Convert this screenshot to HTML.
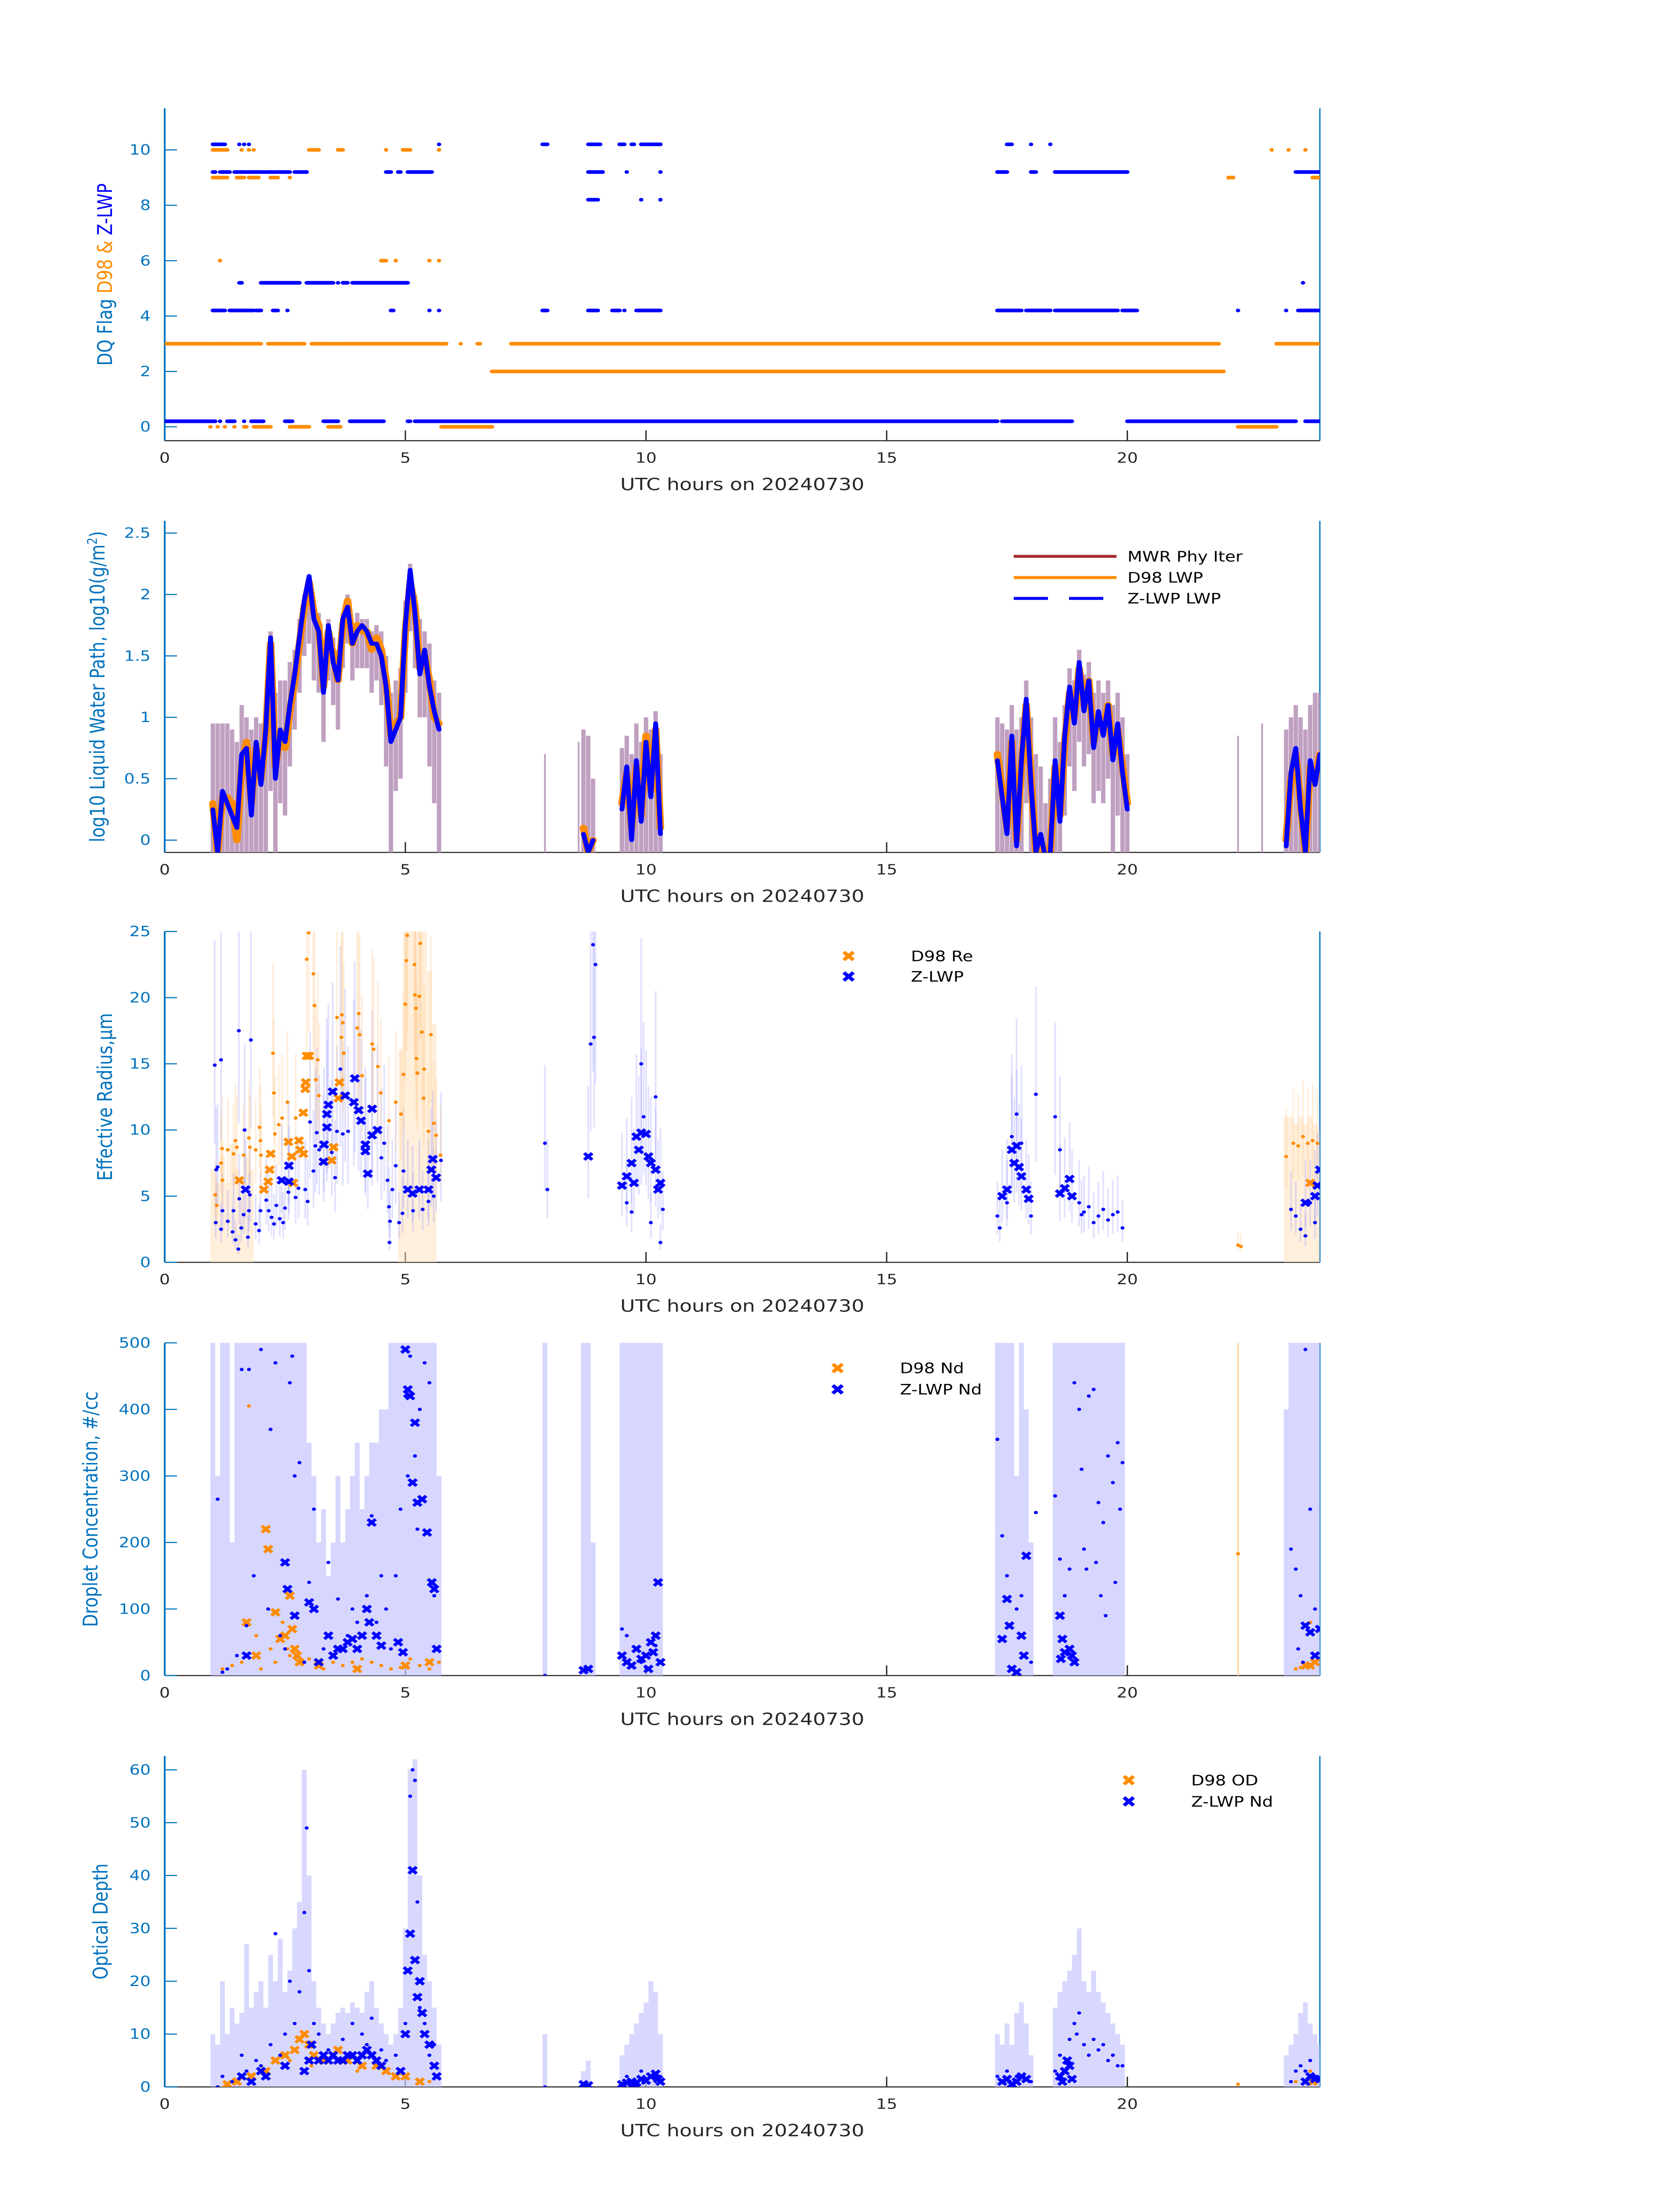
<!DOCTYPE html>
<html><head><meta charset="utf-8"><style>
html,body{margin:0;padding:0;background:#fff;width:100vw;height:100vh;overflow:hidden;}
svg{display:block;width:100vw;height:100vh;font-family:"DejaVu Sans","Liberation Sans",sans-serif;}
</style></head><body>
<svg id="fig" xmlns="http://www.w3.org/2000/svg" viewBox="0 0 3825 6000" preserveAspectRatio="none"></svg>
<script>
// ---------- Panel 1: DQ flag ranges [start,end] in UTC hours ----------
const d98F10=[[1.0,1.3],[1.6,1.6],[1.75,1.75],[1.85,1.85],[3.0,3.2],[3.6,3.7],[4.6,4.6],[4.95,5.1],[5.7,5.7],[23.0,23.0],[23.35,23.35],[23.7,23.7]];
const d98F9=[[1.0,1.3],[1.5,1.65],[1.75,1.95],[2.2,2.35],[2.6,2.6],[22.1,22.2],[23.85,24]];
const d98F6=[[1.15,1.15],[4.5,4.6],[4.8,4.8],[5.5,5.5],[5.7,5.7]];
const d98F3=[[0,1.0],[1.05,1.4],[1.45,1.7],[1.75,2.0],[2.15,2.65],[2.7,2.9],[3.05,3.45],[3.5,3.6],[3.65,5.85],[6.15,6.15],[6.5,6.55],[7.2,21.9],[23.1,24]];
const d98F2=[[6.8,22.0]];
const d98F0=[[0.95,0.95],[1.1,1.1],[1.25,1.25],[1.45,1.45],[1.65,1.7],[1.85,2.2],[2.6,3.0],[3.4,3.65],[5.75,6.8],[22.3,23.1]];
const zF10=[[1.0,1.25],[1.55,1.55],[1.65,1.65],[1.75,1.75],[5.7,5.7],[7.85,7.95],[8.8,9.05],[9.45,9.55],[9.7,9.75],[9.9,10.3],[17.5,17.6],[18.0,18.0],[18.4,18.4]];
const zF9=[[1.0,1.05],[1.15,1.35],[1.45,2.6],[2.7,2.95],[4.6,4.7],[4.85,4.9],[5.05,5.55],[8.8,9.1],[9.6,9.6],[10.3,10.3],[17.3,17.5],[18.0,18.1],[18.5,20.0],[23.5,24]];
const zF8=[[8.8,9.0],[9.9,9.9],[10.3,10.3]];
const zF5=[[1.55,1.6],[2.0,2.8],[2.95,3.5],[3.6,3.6],[3.7,3.8],[3.9,5.05],[23.65,23.65]];
const zF4=[[1.0,1.25],[1.35,1.85],[1.9,2.0],[2.25,2.35],[2.55,2.55],[4.7,4.75],[5.5,5.5],[5.7,5.7],[7.85,7.95],[8.8,9.0],[9.3,9.45],[9.55,9.55],[9.8,10.3],[17.3,17.8],[17.9,18.4],[18.5,19.8],[19.9,20.2],[22.3,22.3],[23.3,23.3],[23.55,24]];
const zF0=[[0,1.05],[1.15,1.15],[1.3,1.45],[1.65,1.65],[1.8,2.05],[2.5,2.65],[3.3,3.6],[3.85,4.55],[5.05,5.1],[5.2,17.3],[17.4,18.85],[20.0,23.5],[23.7,24]];

// ---------- Panel 2: log10 LWP (null = gap) ----------
const lwpT=[1.0,1.1,1.2,1.3,1.4,1.5,1.6,1.7,1.8,1.9,2.0,2.1,2.2,2.3,2.4,2.5,2.6,2.7,2.8,2.9,3.0,3.1,3.2,3.3,3.4,3.5,3.6,3.7,3.8,3.9,4.0,4.1,4.2,4.3,4.4,4.5,4.6,4.7,4.8,4.9,5.0,5.1,5.2,5.3,5.4,5.5,5.6,5.7,null,
8.7,8.8,8.9,null,9.5,9.6,9.7,9.8,9.9,10.0,10.1,10.2,10.3,null,
17.3,17.4,17.5,17.6,17.7,17.8,17.9,18.0,18.1,18.2,18.3,18.4,18.5,18.6,18.7,18.8,18.9,19.0,19.1,19.2,19.3,19.4,19.5,19.6,19.7,19.8,19.9,20.0,null,
23.3,23.4,23.5,23.6,23.7,23.8,23.9,24.0];
const lwpD98=[0.3,-0.1,0.35,0.35,0.3,0.0,0.6,0.8,0.3,0.75,0.5,0.85,1.6,0.6,0.85,0.75,1.05,1.3,1.6,1.9,2.1,1.85,1.75,1.25,1.7,1.5,1.3,1.75,1.95,1.6,1.75,1.7,1.7,1.55,1.65,1.55,1.3,0.85,0.95,1.0,1.7,2.1,1.9,1.4,1.5,1.3,1.0,0.95,null,
0.1,-0.1,0.0,null,0.3,0.55,0.1,0.6,0.2,0.85,0.4,0.9,0.1,null,
0.7,0.4,0.1,0.8,0.0,0.6,1.1,0.5,-0.1,0.0,-0.15,-0.1,0.6,0.2,0.8,1.2,1.0,1.4,1.1,1.3,0.8,1.0,0.9,1.1,0.7,0.9,0.6,0.3,null,
0.0,0.5,0.7,0.3,-0.1,0.6,0.5,0.7];
const lwpZ=[0.25,-0.1,0.4,0.3,0.2,0.1,0.7,0.75,0.2,0.8,0.45,0.9,1.65,0.5,0.9,0.8,1.1,1.35,1.65,1.95,2.15,1.8,1.7,1.2,1.75,1.45,1.3,1.8,1.9,1.6,1.7,1.75,1.7,1.6,1.6,1.5,1.25,0.8,0.9,1.0,1.75,2.2,1.85,1.35,1.55,1.25,1.05,0.9,null,
0.05,-0.1,0.0,null,0.25,0.6,0.0,0.65,0.15,0.8,0.35,0.95,0.05,null,
0.65,0.35,0.05,0.85,-0.05,0.65,1.15,0.45,-0.1,0.05,-0.15,-0.1,0.65,0.15,0.85,1.25,0.95,1.45,1.05,1.3,0.75,1.05,0.85,1.1,0.65,0.95,0.55,0.25,null,
-0.05,0.55,0.75,0.25,-0.1,0.65,0.45,0.7];
const lwpHi=[0.95,0.95,0.95,0.95,0.9,0.8,1.1,1.0,0.9,1.0,0.95,1.1,1.7,1.2,1.3,1.3,1.45,1.55,1.8,2.0,2.15,1.95,1.85,1.5,1.8,1.65,1.55,1.85,2.0,1.75,1.85,1.8,1.8,1.7,1.75,1.7,1.5,1.2,1.3,1.4,1.95,2.25,2.0,1.8,1.7,1.6,1.3,1.2,null,
0.9,0.85,0.5,null,0.75,0.85,0.7,0.95,0.8,1.0,0.9,1.05,0.7,null,
1.0,0.95,0.9,1.1,0.9,1.0,1.3,1.0,0.7,0.6,0.3,0.5,1.0,0.8,1.1,1.4,1.3,1.55,1.35,1.45,1.2,1.3,1.2,1.3,1.1,1.2,1.0,0.7,null,
0.9,1.0,1.1,1.0,0.9,1.1,1.2,1.2];
const lwpLo=[-0.1,-0.1,-0.1,-0.1,-0.1,-0.1,-0.1,-0.1,-0.1,-0.1,-0.1,-0.1,0.4,-0.1,0.3,0.2,0.6,0.9,1.2,1.5,1.6,1.3,1.2,0.8,1.3,1.1,0.9,1.4,1.6,1.3,1.4,1.4,1.4,1.2,1.3,1.1,0.6,-0.1,0.4,0.5,1.2,1.7,1.4,1.0,1.0,0.6,0.3,-0.1,null,
-0.1,-0.1,-0.1,null,-0.1,-0.1,-0.1,-0.1,-0.1,-0.1,-0.1,-0.1,-0.1,null,
-0.1,-0.1,-0.1,-0.1,-0.1,-0.1,0.3,-0.1,-0.1,-0.1,-0.1,-0.1,-0.1,-0.1,0.2,0.6,0.4,0.8,0.6,0.7,0.3,0.4,0.3,0.5,-0.1,0.2,-0.1,-0.1,null,
-0.1,-0.1,-0.1,-0.1,-0.1,-0.1,-0.1,-0.1];
const lwpSpikeT=[7.9,8.6,22.3,22.8];
const lwpSpikeHi=[0.7,0.8,0.85,0.95];

// ---------- Panel 3: effective radius [t, um] ----------
const reD98X=[[1.55,6.2],[2.06,5.5],[2.15,6.1],[2.18,7.0],[2.2,8.2],[2.57,9.1],[2.64,8.0],[2.79,9.2],[2.81,8.5],[2.88,8.2],[2.67,6.0],[2.88,11.3],[2.92,13.1],[2.93,13.6],[2.95,15.6],[3.0,15.6],[3.47,7.7],[3.51,8.7],[3.63,13.6],[3.61,12.4],[23.8,6.0]];
const reD98Dot=[[1.05,5.1],[1.08,4.3],[1.19,8.6],[1.17,7.5],[1.2,6.2],[1.31,8.5],[1.43,8.2],[1.47,9.2],[1.5,8.7],[1.64,8.1],[1.75,9.4],[1.77,8.7],[1.89,8.5],[1.97,10.2],[1.99,9.2],[2.0,8.1],[2.27,12.8],[2.25,15.8],[2.29,9.7],[2.37,10.4],[2.44,10.9],[2.55,12.1],[2.72,10.9],[2.95,22.9],[2.99,24.9],[3.09,21.8],[3.11,19.4],[3.14,13.8],[3.18,15.3],[3.2,12.6],[3.58,18.5],[3.68,18.7],[3.7,18.1],[3.67,17.0],[3.72,15.8],[4.0,17.7],[4.03,18.8],[4.05,17.2],[4.1,14.1],[4.31,16.5],[4.34,16.1],[4.43,14.8],[4.49,12.8],[4.66,10.7],[4.8,12.1],[4.91,11.2],[4.96,14.2],[5.0,19.5],[5.02,22.8],[5.04,24.7],[5.19,22.5],[5.22,19.2],[5.2,20.2],[5.29,20.1],[5.31,24.1],[5.23,15.4],[5.25,14.3],[5.34,17.4],[5.39,14.6],[5.38,12.4],[5.48,9.9],[5.53,17.2],[5.59,10.5],[5.64,9.6],[5.73,8.1],[22.3,1.3],[22.36,1.2],[23.3,8.0],[23.45,9.0],[23.55,8.8],[23.65,9.5],[23.75,9.0],[23.85,9.2],[23.95,9.0]];
const reZX=[[1.68,5.5],[2.43,6.2],[2.58,6.1],[2.58,7.3],[3.3,7.6],[3.31,8.9],[3.37,10.2],[3.4,11.9],[3.37,11.2],[3.49,12.9],[3.75,12.6],[3.95,13.9],[3.93,12.1],[4.03,11.5],[4.08,10.7],[4.31,11.6],[4.17,8.9],[4.17,8.4],[4.22,6.7],[4.42,10.0],[4.31,9.6],[5.05,5.5],[5.15,5.2],[5.29,5.5],[5.48,5.5],[5.57,7.8],[5.54,7.0],[5.64,6.4],
[8.8,8.0],[9.5,5.8],[9.6,6.5],[9.7,7.5],[9.75,6.0],[9.8,9.5],[9.85,8.5],[9.9,9.8],[10.0,9.7],[10.05,8.0],[10.1,7.5],[10.2,7.0],[10.25,5.5],[10.3,6.0],
[17.4,5.0],[17.5,5.5],[17.6,8.5],[17.65,7.5],[17.7,8.8],[17.75,7.2],[17.8,6.5],[17.9,5.5],[17.95,4.8],[18.6,5.2],[18.7,5.6],[18.8,6.3],[18.85,5.0],
[23.7,4.5],[23.9,5.0],[24.0,7.0],[23.95,5.8]];
const reZDot=[[1.04,14.9],[1.17,15.3],[1.54,17.5],[1.79,16.8],[1.06,3.0],[1.07,7.0],[1.1,7.2],[1.2,3.9],[1.17,2.5],[1.31,3.1],[1.41,2.3],[1.43,3.9],[1.47,1.7],[1.53,1.0],[1.55,4.8],[1.59,2.6],[1.66,10.0],[1.64,3.6],[1.73,1.9],[1.75,3.9],[1.77,5.1],[1.89,2.9],[1.99,3.9],[1.96,2.4],[2.11,4.7],[2.16,3.9],[2.22,3.4],[2.27,2.9],[2.32,4.3],[2.39,3.3],[2.46,3.0],[2.5,4.1],[2.57,5.3],[2.72,4.9],[2.78,5.6],[2.92,5.5],[2.97,4.6],[3.02,10.6],[3.09,6.9],[3.13,8.8],[3.16,9.8],[3.21,8.5],[3.47,8.3],[3.54,6.4],[3.58,9.9],[3.65,14.6],[3.7,9.7],[3.81,9.9],[4.5,7.9],[4.56,9.0],[4.63,6.2],[4.68,3.1],[4.67,1.5],[4.66,4.2],[4.73,5.5],[4.8,7.3],[4.87,3.0],[4.94,3.7],[4.96,6.9],[5.16,3.9],[5.36,4.0],[5.48,4.6],[5.59,5.0],[5.74,7.7],
[7.9,9.0],[7.95,5.5],[8.85,16.5],[8.9,24.0],[8.95,22.5],[8.92,17.0],[9.9,15.0],[9.6,4.5],[9.7,3.8],[10.1,3.0],[10.3,1.5],[10.35,4.0],[9.95,11.0],[10.2,12.5],
[17.3,3.5],[17.35,2.6],[17.5,4.5],[17.6,9.5],[17.7,11.2],[17.8,9.0],[18.0,3.5],[18.1,12.7],[18.5,11.0],[18.6,8.5],[19.0,4.5],[19.1,3.8],[19.2,4.2],[19.3,3.0],[19.4,3.5],[19.5,4.0],[19.6,3.2],[19.7,3.6],[19.8,3.8],[19.9,2.6],[19.05,3.6],
[23.4,4.0],[23.5,3.5],[23.6,2.5],[23.7,2.0],[23.8,4.5],[23.9,3.0]];
const reOrangeBandT=[1.0,1.1,1.2,1.3,1.4,1.5,1.6,1.7,1.8,4.9,5.0,5.1,5.2,5.3,5.4,5.5,5.6,23.3,23.4,23.5,23.6,23.7,23.8,23.9,24.0];
const reOrangeBandHi=[7,6,8,6,9,7,6,8,7,16,25,25,25,25,25,22,18,11,11,10.5,11,10.5,11,10.5,10];

// ---------- Panel 4: droplet concentration [t, #/cc] ----------
const ndD98X=[[1.7,80],[2.1,220],[2.15,190],[2.3,95],[2.4,55],[2.6,120],[2.65,70],[2.7,40],[2.75,30],[2.5,60],[2.8,20],[3.2,15],[4.0,10],[5.0,15],[5.5,20],[1.9,30],[23.7,15],[23.8,15],[23.9,20]];
const ndD98Dot=[[1.2,10],[1.4,15],[1.6,20],[1.75,405],[1.9,60],[2.0,10],[2.2,40],[2.3,20],[2.45,80],[2.55,40],[2.6,30],[2.85,20],[3.0,25],[3.3,10],[3.5,20],[3.7,15],[3.9,20],[4.1,25],[4.3,20],[4.5,15],[4.7,10],[4.9,12],[5.1,25],[5.3,15],[5.5,10],[5.7,20],[22.3,183],[23.5,10],[23.6,12],[23.8,80]];
const ndZX=[[1.7,30],[2.5,170],[2.55,130],[2.7,90],[3.4,60],[3.5,30],[3.6,40],[3.7,40],[3.8,50],[3.9,55],[4.0,40],[4.1,60],[4.2,100],[4.25,80],[4.3,230],[4.4,60],[4.5,45],[5.0,490],[5.05,430],[5.1,420],[5.2,380],[5.15,290],[5.25,260],[5.35,265],[5.45,215],[5.55,140],[5.6,130],[5.65,40],[4.85,50],[4.95,35],[3.2,20],[3.0,110],[3.1,100],
[8.7,8],[8.8,10],[9.5,30],[9.6,20],[9.7,15],[9.8,40],[9.9,25],[10.0,30],[10.05,10],[10.1,50],[10.2,60],[10.25,140],[10.3,20],[10.15,35],
[17.4,55],[17.5,115],[17.55,75],[17.6,10],[17.7,5],[17.8,60],[17.85,30],[17.9,180],[18.6,90],[18.65,55],[18.7,35],[18.8,40],[18.85,30],[18.9,20],[18.62,25],
[23.8,65],[23.9,30],[24.0,70],[23.7,75]];
const ndZDot=[[1.1,265],[1.6,460],[1.75,460],[2.0,490],[2.3,470],[2.6,440],[2.65,480],[2.7,300],[2.8,320],[2.2,370],[2.15,100],[1.85,150],[1.7,75],[1.5,30],[3.0,140],[3.1,250],[3.4,170],[3.6,115],[3.9,100],[4.0,80],[4.2,120],[4.3,240],[4.5,150],[4.6,100],[4.8,150],[4.9,250],[5.0,420],[5.1,480],[5.2,330],[5.3,400],[5.4,470],[5.5,440],[5.05,300],[5.25,220],[1.3,10],[1.2,5],[2.4,60],[2.5,40],[2.9,20],[3.3,40],[3.8,60],[4.4,80],[4.7,40],[5.6,120],
[7.9,0],[9.5,70],[9.6,60],[9.9,20],[10.2,45],[10.0,12],
[17.3,355],[17.4,210],[17.5,150],[17.7,100],[17.8,120],[18.0,20],[18.1,245],[18.5,270],[18.6,175],[18.7,120],[18.8,160],[18.9,440],[19.0,400],[19.1,190],[19.2,420],[19.3,430],[19.4,260],[19.5,230],[19.6,330],[19.7,290],[19.8,350],[19.9,320],[19.05,310],[19.15,160],[19.35,170],[19.45,120],[19.55,90],[19.75,140],[19.85,250],
[23.4,190],[23.5,160],[23.6,120],[23.7,490],[23.8,250],[23.9,100],[23.55,40],[23.65,20]];
const ndBandT=[1.0,1.1,1.2,1.3,1.4,1.5,1.6,1.7,1.8,1.9,2.0,2.1,2.2,2.3,2.4,2.5,2.6,2.7,2.8,2.9,3.0,3.1,3.2,3.3,3.4,3.5,3.6,3.7,3.8,3.9,4.0,4.1,4.2,4.3,4.4,4.5,4.6,4.7,4.8,4.9,5.0,5.1,5.2,5.3,5.4,5.5,5.6,5.7,7.9,8.7,8.8,8.9,9.5,9.6,9.7,9.8,9.9,10.0,10.1,10.2,10.3,17.3,17.4,17.5,17.6,17.7,17.8,17.9,18.0,18.5,18.6,18.7,18.8,18.9,19.0,19.1,19.2,19.3,19.4,19.5,19.6,19.7,19.8,19.9,23.3,23.4,23.5,23.6,23.7,23.8,23.9,24.0];
const ndBandHi=[500,300,500,500,200,500,500,500,500,500,500,500,500,500,500,500,500,500,500,500,350,300,200,250,150,200,300,200,250,300,350,250,300,350,350,400,400,500,500,500,500,500,500,500,500,500,500,300,500,500,500,200,500,500,500,500,500,500,500,500,500,500,500,500,500,300,500,400,200,500,500,500,500,500,500,500,500,500,500,500,500,500,500,500,400,500,500,500,500,500,500,500];

// ---------- Panel 5: optical depth [t, tau] ----------
const odD98X=[[1.8,2],[2.1,3],[2.3,5],[2.5,6],[2.7,7],[2.8,9],[2.9,10],[3.0,8],[3.1,6],[3.3,5],[3.6,7],[3.8,5],[4.1,4],[4.4,4],[4.6,3],[4.8,2],[5.0,2],[5.3,1],[1.5,1],[1.3,0.5],[23.85,1]];
const odD98Dot=[[2.6,5],[3.05,4],[4.0,3],[5.5,1],[22.3,0.5],[23.5,1],[23.8,3]];
const odZX=[[1.6,2],[2.0,3],[2.5,4],[3.0,5],[3.05,8],[3.3,6],[3.4,5],[3.5,6],[3.6,5],[3.7,5],[3.8,6],[3.9,6],[4.0,5],[4.1,6],[4.2,7],[4.3,6],[4.4,5],[4.5,4],[4.9,3],[5.0,10],[5.05,22],[5.1,29],[5.15,41],[5.2,24],[5.25,17],[5.3,20],[5.35,14],[5.4,10],[5.5,8],[5.6,4],[5.65,2],[1.8,1],[2.1,2],[2.9,3],[3.2,5],
[8.7,0.5],[8.8,0.3],[9.5,0.5],[9.6,0.8],[9.7,1],[9.8,0.8],[9.9,1.5],[10.0,1.2],[10.1,2],[10.2,2.5],[10.25,1.5],[10.3,1],[9.75,0.5],
[17.4,1],[17.5,1.5],[17.6,0.5],[17.7,1],[17.8,2],[17.9,1.5],[18.6,2],[18.7,3],[18.75,5],[18.8,4],[18.85,1.5],[18.65,1],
[23.8,2],[23.9,1.5],[24.0,1.5],[23.7,1]];
const odZDot=[[1.1,0],[1.2,2],[1.4,1],[1.6,6],[1.7,3],[1.9,5],[2.2,8],[2.3,29],[2.5,10],[2.6,20],[2.7,12],[2.8,18],[2.9,33],[2.95,49],[3.0,22],[3.1,12],[3.2,10],[3.4,7],[3.7,9],[3.9,12],[4.1,10],[4.2,8],[4.3,13],[4.5,7],[4.6,5],[4.8,6],[5.0,12],[5.1,55],[5.15,60],[5.2,58],[5.25,35],[5.3,15],[5.4,12],[5.5,6],[5.6,8],[2.0,4],[2.4,6],
[9.6,2],[9.9,3],[10.0,1.5],[7.9,0],
[17.3,2],[17.5,3],[17.7,2],[18.0,1],[18.5,3],[18.6,6],[18.8,9],[18.9,12],[19.0,14],[19.1,8],[19.2,6],[19.3,9],[19.4,7],[19.5,8],[19.6,5],[19.7,6],[19.8,4],[19.9,4],[18.95,10],
[23.4,1],[23.5,3],[23.6,4],[23.7,3],[23.8,5],[23.9,2]];
const odBandT=[1.0,1.1,1.2,1.3,1.4,1.5,1.6,1.7,1.8,1.9,2.0,2.1,2.2,2.3,2.4,2.5,2.6,2.7,2.8,2.9,3.0,3.1,3.2,3.3,3.4,3.5,3.6,3.7,3.8,3.9,4.0,4.1,4.2,4.3,4.4,4.5,4.6,4.7,4.8,4.9,5.0,5.1,5.2,5.3,5.4,5.5,5.6,5.7,7.9,8.7,8.8,9.5,9.6,9.7,9.8,9.9,10.0,10.1,10.2,10.3,17.3,17.4,17.5,17.6,17.7,17.8,17.9,18.0,18.5,18.6,18.7,18.8,18.9,19.0,19.1,19.2,19.3,19.4,19.5,19.6,19.7,19.8,19.9,23.3,23.4,23.5,23.6,23.7,23.8,23.9,24.0];
const odBandHi=[10,8,20,10,15,12,14,27,15,18,20,15,25,20,28,18,22,30,35,60,40,20,15,12,10,12,14,15,14,16,15,14,18,20,15,12,10,8,10,15,30,60,62,40,25,20,15,8,10,3,5,6,8,10,12,14,16,20,18,10,10,8,12,8,14,16,12,6,15,18,20,22,25,30,20,18,22,18,16,14,12,10,8,6,8,10,14,16,12,10,8];

// ---------- tick labels ----------
const xTicks=[0,5,10,15,20];
const p1Ticks=[0,2,4,6,8,10];
const p2Ticks=[0,0.5,1,1.5,2,2.5];
const p2TickLabels=["0","0.5","1","1.5","2","2.5"];
const p3Ticks=[0,5,10,15,20,25];
const p4Ticks=[0,100,200,300,400,500];
const p5Ticks=[0,10,20,30,40,50,60];

// ---------- drawing ----------
const NS='http://www.w3.org/2000/svg';
const svg=document.getElementById('fig');
const XL=375, XR=3005, HMAX=24;
const AXC='#0072BD', OR='#FF8C00', BL='#0000FF';
function X(h){return XL+(h/HMAX)*(XR-XL);}
function Y(p,v){return p.bottom-(v-p.ymin)/(p.ymax-p.ymin)*(p.bottom-p.top);}
function mk(tag,attrs,parent){const e=document.createElementNS(NS,tag);for(const k in attrs)e.setAttribute(k,attrs[k]);(parent||svg).appendChild(e);return e;}

const P=[
 {top:296,bottom:1204,ymin:-0.5,ymax:11.5},
 {top:1423,bottom:2329,ymin:-0.1,ymax:2.6},
 {top:2545,bottom:3449,ymin:0,ymax:25},
 {top:3669,bottom:4578,ymin:0,ymax:500},
 {top:4798,bottom:5702,ymin:0,ymax:62.6}
];
const defs=mk('defs',{});
P.forEach((p,i)=>{const c=mk('clipPath',{id:'clip'+i},defs);mk('rect',{x:XL,y:p.top,width:XR-XL,height:p.bottom-p.top},c);});

function panelGroup(i,name){const g=mk('g',{'clip-path':'url(#clip'+i+')'});return g;}

function axes(i,ticks,labels,ylabelParts,ylabelX){
 const p=P[i];
 const g=mk('g',{});
 
 
 const xa=mk('line',{x1:XL,y1:p.bottom,x2:XR,y2:p.bottom,stroke:'#262626','stroke-width':3},g);
 
 
 xTicks.forEach(t=>{
  const tk=mk('line',{x1:X(t),y1:p.bottom,x2:X(t),y2:p.bottom-28,stroke:'#262626','stroke-width':3},g);
  
  
  const tl=mk('text',{x:X(t),y:p.bottom+60,'font-size':38,fill:'#262626','text-anchor':'middle'},g);
  tl.textContent=String(t);
  
  
 });
 const xl=mk('text',{x:1690,y:p.bottom+135,'font-size':46,fill:'#262626','text-anchor':'middle'},g);
 xl.textContent='UTC hours on 20240730';
 
 
 const ya=mk('line',{x1:XL,y1:p.top,x2:XL,y2:p.bottom,stroke:AXC,'stroke-width':4},g);
 
 
 const yr=mk('line',{x1:XR,y1:p.top,x2:XR,y2:p.bottom,stroke:AXC,'stroke-width':3},g);
 
 
 ticks.forEach((t,k)=>{
  const y=Y(p,t);
  const tk=mk('line',{x1:XL,y1:y,x2:XL+28,y2:y,stroke:AXC,'stroke-width':3},g);
  
  
  const tl=mk('text',{x:XL-32,y:y+13,'font-size':38,fill:AXC,'text-anchor':'end'},g);
  tl.textContent=labels?labels[k]:String(t);
  
  
 });
 const cy=(p.top+p.bottom)/2;
 const yl=mk('text',{x:0,y:0,'font-size':46,'text-anchor':'middle',transform:'translate('+ylabelX+','+cy+') rotate(-90)'},g);
 
 
 ylabelParts.forEach(pt=>{const s=mk('tspan',{fill:pt[1]},yl);if(pt[2])s.setAttribute('baseline-shift','super');if(pt[2])s.setAttribute('font-size','30');s.textContent=pt[0];});
}

function segs(g,ranges,level,color,w,name){
 const p=P[0];
 ranges.forEach(r=>{
  const l=mk('line',{x1:X(r[0]),y1:Y(p,level),x2:X(r[1]),y2:Y(p,level),stroke:color,'stroke-width':w,'stroke-linecap':'round'},g);
  
  
 });
}
function dot(g,p,t,v,color,r,name){
 const c=mk('circle',{cx:X(t),cy:Y(p,v),r:r,fill:color},g);
 
 
}
function xmark(g,p,t,v,color,name){
 const x=X(t),y=Y(p,v),s=9;
 const e=mk('path',{d:'M'+(x-s)+' '+(y-s)+'L'+(x+s)+' '+(y+s)+'M'+(x-s)+' '+(y+s)+'L'+(x+s)+' '+(y-s),stroke:color,'stroke-width':8,fill:'none'},g);
 
 
}
function errbar(g,p,t,v,color,lo,hi,name){
 const e=mk('line',{x1:X(t),y1:Y(p,v*lo),x2:X(t),y2:Y(p,Math.min(p.ymax,v*hi+0.5)),stroke:color,'stroke-width':4},g);
 
 
}
function bands(g,p,ts,his,color,op,name,los){
 ts.forEach((t,k)=>{
  const lo=los?los[k]:p.ymin;
  const r=mk('rect',{x:X(t)-5.5,y:Y(p,his[k]),width:11,height:Math.max(0,Y(p,lo)-Y(p,his[k])),fill:color,'fill-opacity':op},g);
  
  
 });
}
function legendX(i,x,y,color,label){
 const g=mk('g',{});
 
 
 const s=11;
 mk('path',{d:'M'+(x-s)+' '+(y-s)+'L'+(x+s)+' '+(y+s)+'M'+(x-s)+' '+(y+s)+'L'+(x+s)+' '+(y-s),stroke:color,'stroke-width':9,fill:'none'},g);
 const t=mk('text',{x:x+142,y:y+14,'font-size':39,fill:'#000'},g);
 t.textContent=label;
}

// ===== Panel 1 =====
axes(0,p1Ticks,null,[['DQ Flag  ',AXC],['D98 &  ',OR],['Z-LWP',BL]],255);
{
 const g=panelGroup(0,'dq-flag-plot');
 segs(g,d98F10,10,OR,10,'d98-flag-10');segs(g,d98F9,9,OR,10,'d98-flag-9');segs(g,d98F6,6,OR,10,'d98-flag-6');
 segs(g,d98F3,3,OR,10,'d98-flag-3');segs(g,d98F2,2,OR,10,'d98-flag-2');segs(g,d98F0,0,OR,10,'d98-flag-0');
 segs(g,zF10,10.2,BL,10,'zlwp-flag-10');segs(g,zF9,9.2,BL,10,'zlwp-flag-9');segs(g,zF8,8.2,BL,10,'zlwp-flag-8');
 segs(g,zF5,5.2,BL,10,'zlwp-flag-5');segs(g,zF4,4.2,BL,10,'zlwp-flag-4');segs(g,zF0,0.2,BL,10,'zlwp-flag-0');
}

// ===== Panel 2 =====
axes(1,p2Ticks,p2TickLabels,[['log10 Liquid Water Path, log10(g/m',AXC],['2',AXC,true],[')',AXC]],238);
{
 const p=P[1];const g=panelGroup(1,'lwp-plot');
 lwpT.forEach((t,k)=>{ if(t===null)return;
  const r=mk('rect',{x:X(t)-5,y:Y(p,lwpHi[k]),width:10,height:Y(p,lwpLo[k])-Y(p,lwpHi[k]),fill:'#C0A0C0'},g);
  
  
 });
 lwpSpikeT.forEach((t,k)=>{
  const r=mk('rect',{x:X(t)-2,y:Y(p,lwpSpikeHi[k]),width:4,height:Y(p,-0.1)-Y(p,lwpSpikeHi[k]),fill:'#C0A0C0'},g);
  
  
 });
 function line(vals,color,w,name){
  let d='',pen=false;
  lwpT.forEach((t,k)=>{ if(t===null||vals[k]===null){pen=false;return;} d+=(pen?'L':'M')+X(t).toFixed(1)+' '+Y(p,vals[k]).toFixed(1);pen=true;});
  const e=mk('path',{d:d,stroke:color,'stroke-width':w,fill:'none','stroke-linejoin':'round','stroke-linecap':'round'},g);
  
  
 }
 line(lwpD98,OR,17,'d98-lwp-line');
 line(lwpZ,BL,11,'zlwp-lwp-line');
 const lg=mk('g',{});
 
 
 const ly=[1520,1578,1635];
 mk('line',{x1:2308,y1:ly[0],x2:2542,y2:ly[0],stroke:'#A52A2A','stroke-width':8},lg);
 mk('line',{x1:2308,y1:ly[1],x2:2542,y2:ly[1],stroke:OR,'stroke-width':8},lg);
 mk('line',{x1:2308,y1:ly[2],x2:2542,y2:ly[2],stroke:BL,'stroke-width':8,'stroke-dasharray':'78 48'},lg);
 [['MWR Phy Iter',ly[0]],['D98 LWP',ly[1]],['Z-LWP LWP',ly[2]]].forEach(a=>{const t=mk('text',{x:2567,y:a[1]+14,'font-size':39,fill:'#000'},lg);t.textContent=a[0];});
}

// ===== Panel 3 =====
axes(2,p3Ticks,null,[['Effective Radius,',AXC],['μ',AXC],['m',AXC]],255);
{
 const p=P[2];const g=panelGroup(2,'re-plot');
 bands(g,p,reOrangeBandT,reOrangeBandHi,'#FFE0B8',0.5,'d98-re-band');
 reZDot.concat(reZX).forEach(a=>errbar(g,p,a[0],a[1],'rgba(150,150,255,0.28)',0.6,1.6,'zlwp-re-errorbar'));
 reD98Dot.forEach(a=>errbar(g,p,a[0],a[1],'rgba(255,190,120,0.25)',0.7,1.4,'d98-re-errorbar'));
 reD98Dot.forEach(a=>dot(g,p,a[0],a[1],OR,4.5,'d98-re-point'));
 reD98X.forEach(a=>xmark(g,p,a[0],a[1],OR,'d98-re-marker'));
 reZDot.forEach(a=>dot(g,p,a[0],a[1],BL,4.5,'zlwp-re-point'));
 reZX.forEach(a=>xmark(g,p,a[0],a[1],BL,'zlwp-re-marker'));
 legendX(2,1932,2612,OR,'D98 Re');
 legendX(2,1932,2668,BL,'Z-LWP');
}

// ===== Panel 4 =====
axes(3,p4Ticks,null,[['Droplet Concentration, #/cc',AXC]],222);
{
 const p=P[3];const g=panelGroup(3,'nd-plot');
 bands(g,p,ndBandT,ndBandHi,'#C8C8FF',0.75,'zlwp-nd-band');
 const ob=mk('rect',{x:X(22.3)-2,y:p.top,width:4,height:p.bottom-p.top,fill:'#FFD9A8'},g);
 
 
 ndD98Dot.forEach(a=>dot(g,p,a[0],a[1],OR,4.5,'d98-nd-point'));
 ndD98X.forEach(a=>xmark(g,p,a[0],a[1],OR,'d98-nd-marker'));
 ndZDot.forEach(a=>dot(g,p,a[0],a[1],BL,4.5,'zlwp-nd-point'));
 ndZX.forEach(a=>xmark(g,p,a[0],a[1],BL,'zlwp-nd-marker'));
 legendX(3,1907,3738,OR,'D98 Nd');
 legendX(3,1907,3796,BL,'Z-LWP Nd');
}

// ===== Panel 5 =====
axes(4,p5Ticks,null,[['Optical Depth',AXC]],245);
{
 const p=P[4];const g=panelGroup(4,'od-plot');
 bands(g,p,odBandT,odBandHi,'#C8C8FF',0.7,'zlwp-od-band');
 odD98Dot.forEach(a=>dot(g,p,a[0],a[1],OR,4.5,'d98-od-point'));
 odD98X.forEach(a=>xmark(g,p,a[0],a[1],OR,'d98-od-marker'));
 odZDot.forEach(a=>dot(g,p,a[0],a[1],BL,4.5,'zlwp-od-point'));
 odZX.forEach(a=>xmark(g,p,a[0],a[1],BL,'zlwp-od-marker'));
 legendX(4,2570,4864,OR,'D98 OD');
 legendX(4,2570,4922,BL,'Z-LWP Nd');
}
</script>
</body></html>
